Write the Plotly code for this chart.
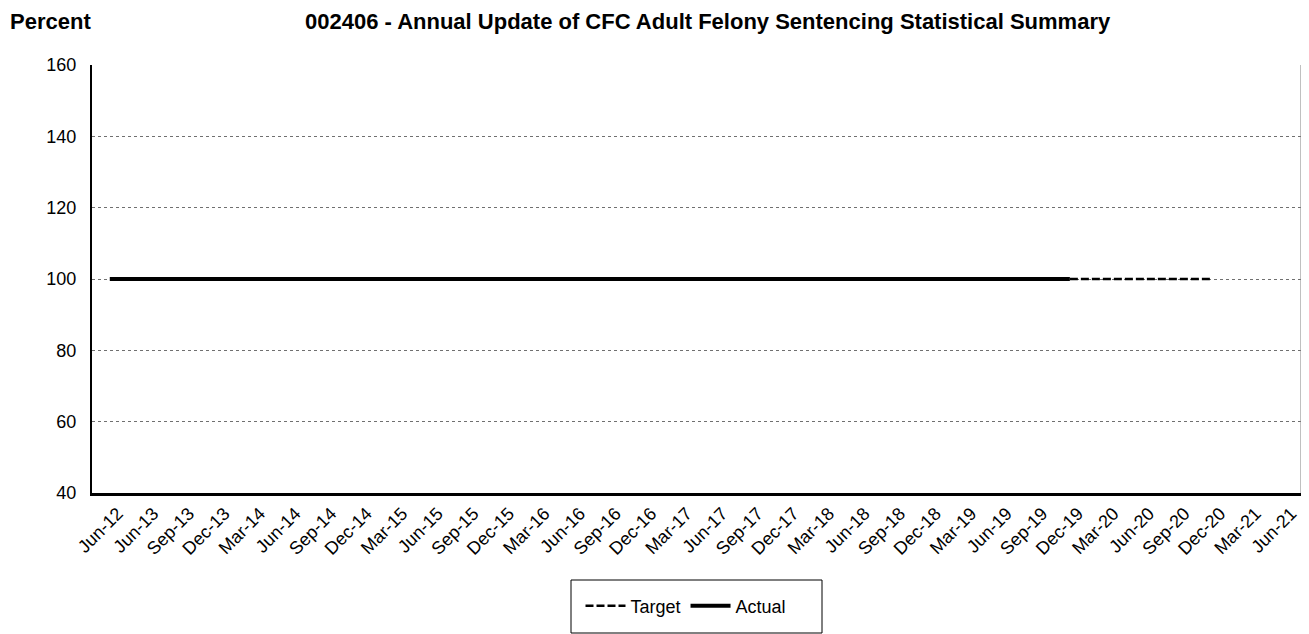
import plotly.graph_objects as go

categories = ["Jun-12", "Jun-13", "Sep-13", "Dec-13", "Mar-14", "Jun-14", "Sep-14", "Dec-14",
              "Mar-15", "Jun-15", "Sep-15", "Dec-15", "Mar-16", "Jun-16", "Sep-16", "Dec-16",
              "Mar-17", "Jun-17", "Sep-17", "Dec-17", "Mar-18", "Jun-18", "Sep-18", "Dec-18",
              "Mar-19", "Jun-19", "Sep-19", "Dec-19", "Mar-20", "Jun-20", "Sep-20", "Dec-20",
              "Mar-21", "Jun-21"]

actual = [100] * 28 + [None] * 6
target = [None] * 27 + [100, 100, 100, 100, 100] + [None, None]

y_ticks = [40, 60, 80, 100, 120, 140, 160]

FONT = "Liberation Sans, Arial, sans-serif"
OFF = 8  # default page body margin
W, H = 1309 - OFF, 634 - OFF
# desired plot box in page pixels: left 92, top 65, right 1301, bottom 493
L = 92 - OFF
T = 65 - OFF
R = W - (1301 - OFF)
B = H - (493 - OFF)
PW, PH = W - L - R, H - T - B


def px(x):
    """page x pixel -> paper coordinate"""
    return (x - OFF - L) / PW


def py(y):
    """page y pixel -> paper coordinate"""
    return (H - B - (y - OFF)) / PH


fig = go.Figure()
fig.add_trace(go.Scatter(x=categories, y=target, name="Target", mode="lines",
                         line=dict(color="black", width=2.5, dash="8px,3px")))
fig.add_trace(go.Scatter(x=categories, y=actual, name="Actual", mode="lines",
                         line=dict(color="black", width=4)))

fig.update_layout(
    width=W, height=H,
    margin=dict(l=L, r=R, t=T, b=B, autoexpand=False),
    paper_bgcolor="white", plot_bgcolor="white",
    font=dict(family=FONT, size=18, color="black"),
    showlegend=True,
    legend=dict(orientation="h", x=px(686), xanchor="center", y=py(606), yanchor="middle",
                borderwidth=0, font=dict(size=18), bgcolor="rgba(0,0,0,0)",
                itemwidth=40, traceorder="normal"),
)
fig.add_annotation(text="<b>Percent</b>", xref="paper", yref="paper",
                   x=px(9), y=py(OFF), xanchor="left", yanchor="top",
                   showarrow=False, font=dict(size=22, family=FONT), borderpad=0)
fig.add_annotation(text="<b>002406 - Annual Update of CFC Adult Felony Sentencing Statistical Summary</b>",
                   xref="paper", yref="paper",
                   x=px(708), y=py(OFF), xanchor="center", yanchor="top",
                   showarrow=False, font=dict(size=22, family=FONT), borderpad=0)

fig.update_xaxes(type="category", tickangle=-45, showgrid=False,
                 showline=True, linecolor="black", linewidth=3,
                 ticks="", tickfont=dict(size=18), mirror=False, automargin=False,
                 ticklabelshift=8,
                 range=[-0.5, len(categories) - 0.5])
fig.update_yaxes(range=[40, 160], tickvals=y_ticks, showgrid=True,
                 gridcolor="#707070", griddash="dot", gridwidth=1,
                 showline=True, linecolor="black", linewidth=2, automargin=False,
                 ticks="", tickfont=dict(size=18), zeroline=False, ticklabelstandoff=10)

# right frame line
fig.add_shape(type="line", xref="paper", yref="paper", x0=1, x1=1, y0=0, y1=1,
              line=dict(color="#808080", width=1))
# legend frame
fig.add_shape(type="rect", xref="paper", yref="paper",
              x0=px(571), x1=px(822), y0=py(633), y1=py(580),
              line=dict(color="black", width=1))

fig.write_html("out.html")
